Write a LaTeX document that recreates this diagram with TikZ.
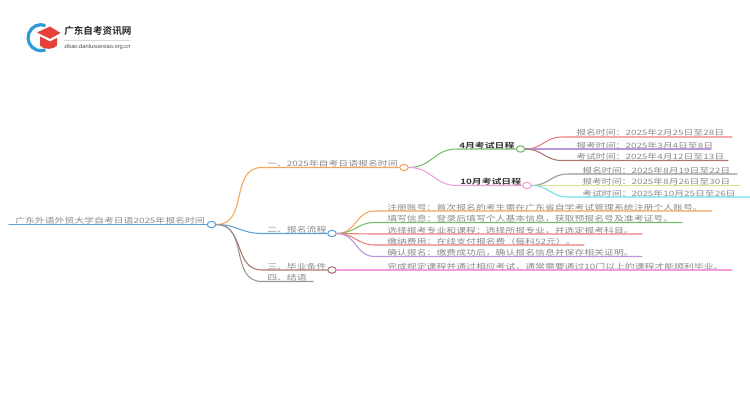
\documentclass[tikz,border=0pt]{standalone}
\usepackage{fontspec}
\setmainfont{Liberation Sans}
\newfontfamily\cjk[FakeStretch=1.33]{Noto Sans CJK SC}
\newfontfamily\cjkb[FakeStretch=1.33]{Noto Sans CJK SC Bold}
\newfontfamily\cjklogo{Noto Sans CJK SC Bold}
\usetikzlibrary{calc,shapes.geometric}
\definecolor{txt}{HTML}{8A8A8A}
\definecolor{cblue}{HTML}{5BA3D9}
\definecolor{corange}{HTML}{F5A55C}
\definecolor{cgreen}{HTML}{74BF6B}
\definecolor{cpink}{HTML}{EE9EDD}
\definecolor{cred}{HTML}{EC7C7C}
\definecolor{cpurple}{HTML}{B997DD}
\definecolor{cbrown}{HTML}{A9786C}
\definecolor{cgray}{HTML}{979797}
\definecolor{colive}{HTML}{DDDD8C}
\definecolor{ccyan}{HTML}{6FDCE6}
\definecolor{logored}{HTML}{E5403A}
\definecolor{logoblue}{HTML}{2C9BD6}
\tikzset{
 x=0.75pt,y=-0.75pt,
 lbl/.style={anchor=base west,inner sep=0pt,text=txt,font=\cjk\fontsize{5.56pt}{8pt}\selectfont},
 lblb/.style={anchor=base west,inner sep=0pt,text=black!80,font=\cjkb\fontsize{5.56pt}{8pt}\selectfont},
 link/.style={line width=0.8pt,line cap=round},
 dot/.style={ellipse,draw,fill=white,line width=0.8pt,minimum width=6.4pt,minimum height=4.8pt,inner sep=0pt},
}
\newcommand{\conn}[4]{% colour, from, start of straight part, to
 \draw[link,#1] (#2.east) to[out=0,in=180,looseness=1.15] (#3) -- (#4);}
\begin{document}
\begin{tikzpicture}
\useasboundingbox (0,0) rectangle (750,410);
% logo
\draw[logoblue,line width=2.4pt] (45.5,25.5) arc[start angle=-70,end angle=-290,radius=13];
\fill[logored] (40,36.5) -- (50,41.5) -- (57,38) -- (57,45.5) .. controls (53,50) and (44,50) .. (40,45.5) -- cycle;
\fill[logored] (37,32.5) -- (50,26.5) -- (60.5,33) -- (50,38.8) -- cycle;
\node[anchor=base west,inner sep=0pt,text=black!85,font=\cjklogo\fontsize{7.2pt}{8pt}\selectfont] (logot) at (64,35) {广东自考资讯网};
\draw[black!15,line width=0.4pt] (64,40) -- (131,40);
\node[anchor=base west,inner sep=0pt,text=black!70,font=\fontsize{4.3pt}{5pt}\selectfont] (logos) at (64,48.5) {zikao.danluxuexiao.org.cn};
% dots and texts
\coordinate (r0) at (9,224.5);
\node[dot,draw=cblue] (root) at (211.5,224.5) {};
\node[lbl] (troot) at (15,223.5) {广东外语外贸大学自考日语2025年报名时间};
\node[dot,draw=corange] (a) at (404,167.5) {};
\node[lbl] (ta) at (267,166.5) {一、2025年自考日语报名时间};
\node[dot,draw=cgreen] (a1) at (520.5,149) {};
\node[lblb] (ta1) at (459,148) {4月考试日程};
\node[dot,draw=cpink] (a2) at (527,185.5) {};
\node[lblb] (ta2) at (460,184.5) {10月考试日程};
\node[dot,draw=cblue] (b) at (332,233.5) {};
\node[lbl] (tb) at (267,232.5) {二、报名流程};
\node[dot,draw=cbrown] (c) at (332,270) {};
\node[lbl] (tc) at (267,269) {三、毕业条件};
\node[lbl] (td) at (267,280.5) {四、结语};
% leaves
\node[lbl] (l1) at (576,136) {报名时间：2025年2月25日至28日};
\node[lbl] (l2) at (576,148) {报考时间：2025年3月4日至8日};
\node[lbl] (l3) at (576,159.5) {考试时间：2025年4月12日至13日};
\node[lbl] (l4) at (582,173) {报名时间：2025年8月19日至22日};
\node[lbl] (l5) at (582,184.5) {报考时间：2025年8月26日至30日};
\node[lbl] (l6) at (582,196) {考试时间：2025年10月25日至26日};
\node[lbl] (m1) at (387,210) {注册账号：首次报名的考生需在广东省自学考试管理系统注册个人账号。};
\node[lbl] (m2) at (387,221.5) {填写信息：登录后填写个人基本信息，获取预报名号及准考证号。};
\node[lbl] (m3) at (387,233) {选择报考专业和课程：选择所报专业，并选定报考科目。};
\node[lbl] (m4) at (387,244) {缴纳费用：在线支付报名费（每科52元）。};
\node[lbl] (m5) at (387,255.5) {确认报名：缴费成功后，确认报名信息并保存相关证明。};
\node[lbl] (n1) at (387,269) {完成规定课程并通过相应考试，通常需要通过10门以上的课程才能顺利毕业。};
% end coordinates
\coordinate (ea) at (262,167.5);
\coordinate (eb) at (262,233.5);
\coordinate (ec) at (262,270);
\coordinate (ed) at (262,281.5);
\coordinate (ed2) at (313,281.5);
\coordinate (ea1) at (457,149); \coordinate (ea2) at (457,185.5);
\coordinate (s1) at (562,137); \coordinate (e1) at (732,137);
\coordinate (s2) at (562,149); \coordinate (e2) at (711,149);
\coordinate (s3) at (562,160.5); \coordinate (e3) at (728,160.5);
\coordinate (s4) at (568,174); \coordinate (e4) at (737,174);
\coordinate (s5) at (568,185.5); \coordinate (e5) at (740,185.5);
\coordinate (s6) at (568,197); \coordinate (e6) at (750,197);
\coordinate (q1) at (375,211); \coordinate (f1) at (712,211);
\coordinate (q2) at (375,222.5); \coordinate (f2) at (682,222.5);
\coordinate (q3) at (375,234); \coordinate (f3) at (642,234);
\coordinate (q4) at (375,245); \coordinate (f4) at (584,245);
\coordinate (q5) at (375,256.5); \coordinate (f5) at (642,256.5);
\coordinate (q6) at (375,270); \coordinate (f6) at (732,270);
% connectors
\draw[link,cblue,line width=1.1pt] (r0) -- (root.west);
\conn{corange}{root}{ea}{a.west}
\conn{cblue}{root}{eb}{b.west}
\conn{cbrown}{root}{ec}{c.west}
\conn{cgray}{root}{ed}{ed2}
\conn{cgreen}{a}{ea1}{a1.west}
\conn{cpink}{a}{ea2}{a2.west}
\conn{cred}{a1}{s1}{e1}
\conn{cpurple}{a1}{s2}{e2}
\conn{cbrown}{a1}{s3}{e3}
\conn{cgray}{a2}{s4}{e4}
\conn{colive}{a2}{s5}{e5}
\conn{ccyan}{a2}{s6}{e6}
\conn{corange}{b}{q1}{f1}
\conn{cgreen}{b}{q2}{f2}
\conn{cred}{b}{q3}{f3}
\conn{cred}{b}{q4}{f4}
\conn{cpurple}{b}{q5}{f5}
\conn{cpink}{c}{q6}{f6}
\end{tikzpicture}
\end{document}
